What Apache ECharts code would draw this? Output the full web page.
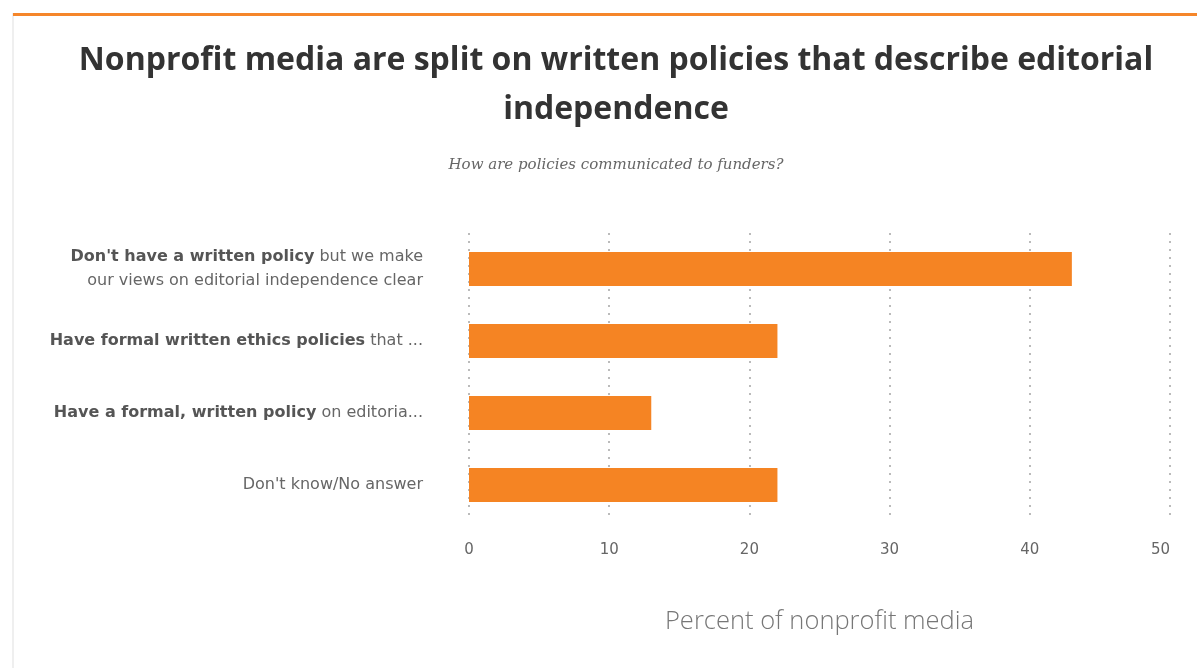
<!DOCTYPE html>
<html><head><meta charset="utf-8">
<script src="https://cdn.jsdelivr.net/npm/echarts@6/dist/echarts.min.js"></script>
<style>html,body{margin:0;padding:0;background:#fff}#c{width:1197px;height:668px}</style>
</head><body><div id="c"></div>
<script>
const titleText = "Nonprofit media are split on written policies that describe editorial\nindependence";
const subtitleText = "How are policies communicated to funders?";
const categories = [
  "{b|Don't have a written policy} but we make\nour views on editorial independence clear",
  "{b|Have formal written ethics policies} that ...",
  "{b|Have a formal, written policy} on editoria...",
  "Don't know/No answer"
];
const values = [43, 22, 13, 22];
const xTicks = [0, 10, 20, 30, 40, 50];
const axisTitle = "Percent of nonprofit media";

const chart = echarts.init(document.getElementById('c'), null, {renderer: 'canvas'});
chart.setOption({
  backgroundColor: '#fff',
  animation: false,
  graphic: [
    {type: 'rect', shape: {x: 12, y: 13, width: 2, height: 655}, style: {fill: '#efefef'}},
    {type: 'rect', shape: {x: 13, y: 13, width: 1184, height: 3}, style: {fill: '#f5862a'}}
  ],
  title: [
    {text: titleText, left: 611, top: 31, textAlign: 'center',
     textStyle: {fontFamily: 'Open Sans', fontWeight: 'bold', fontSize: 32, color: '#333', lineHeight: 49, align: 'center'}},
    {text: subtitleText, left: 611, top: 153, textAlign: 'center',
     textStyle: {fontFamily: 'DejaVu Serif', fontStyle: 'italic', fontWeight: 'normal', fontSize: 15, color: '#666'}}
  ],
  grid: {left: 469, right: 27, top: 233, bottom: 147, containLabel: false},
  xAxis: {
    type: 'value', min: 0, max: 50, interval: 10,
    axisLine: {show: false}, axisTick: {show: false},
    splitLine: {show: true, lineStyle: {type: [2, 6], color: '#bbb', width: 2}},
    axisLabel: {margin: 22, fontFamily: 'DejaVu Sans', fontSize: 15, color: '#666', alignMaxLabel: 'right',
      formatter: v => xTicks.includes(v) ? String(v) : ''},
    name: axisTitle, nameLocation: 'middle', nameGap: 88,
    nameTextStyle: {fontFamily: 'Open Sans', fontWeight: 300, fontSize: 25.5, color: '#777'}
  },
  yAxis: {
    type: 'category', data: categories, inverse: true,
    axisLine: {show: false}, axisTick: {show: false}, splitLine: {show: false},
    axisLabel: {margin: 46, fontFamily: 'DejaVu Sans', fontSize: 16, color: '#666', lineHeight: 24, align: 'right',
      rich: {b: {fontFamily: 'DejaVu Sans', fontSize: 16, fontWeight: 'bold', color: '#555', lineHeight: 24}}}
  },
  series: [{
    type: 'bar', data: values, barWidth: '47%',
    itemStyle: {color: '#f58423'}, silent: true
  }]
});
</script></body></html>
